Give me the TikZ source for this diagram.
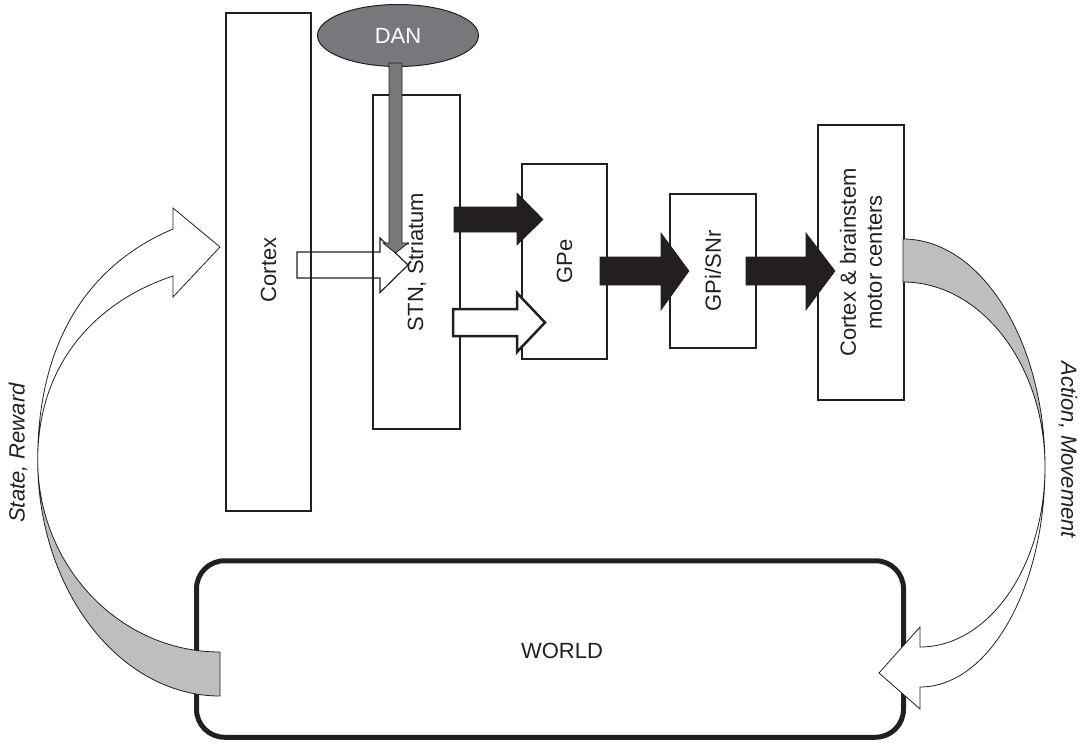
\documentclass[tikz,border=0pt]{standalone}
\usepackage{fontspec}
\setmainfont{Liberation Sans}
\usetikzlibrary{shapes.geometric}
\definecolor{ink}{HTML}{231F20}
\definecolor{dangray}{HTML}{77787B}
\definecolor{band}{HTML}{BCBEC0}
\begin{document}
\begin{tikzpicture}[x=1pt,y=-1pt,
  box/.style={draw=ink,line width=1.2pt,inner sep=0pt},
  lbl/.style={font=\fontsize{22}{26}\selectfont,text=ink,inner sep=0pt,align=center},
  blk/.style={fill=ink,draw=ink,line width=0.6pt},
  hollow/.style={draw=ink,line width=1.2pt},
  hollowthick/.style={draw=ink,fill=white,line width=2.5pt},
  ribbon/.style={draw=ink,line width=0.8pt}]
\useasboundingbox (0,0) rectangle (1080,744);

% boxes
\node[box,minimum width=85pt,minimum height=498pt] (cortex) at (268.5,262) {};
\node[box,minimum width=87pt,minimum height=334pt] (stn) at (416.5,262) {};
\node[box,minimum width=85pt,minimum height=195pt] (gpe) at (564.5,261.5) {};
\node[box,minimum width=86pt,minimum height=154pt] (gpi) at (713,271) {};
\node[box,minimum width=86pt,minimum height=275pt] (motor) at (861,262.5) {};
\node[draw=ink,line width=5pt,rounded corners=28pt,minimum width=707pt,minimum height=176.5pt,inner sep=0pt] (world) at (550,649) {};
\node[ellipse,draw=ink,fill=dangray,line width=1pt,minimum width=161pt,minimum height=62pt,inner sep=0pt] (dan) at (398,35.5) {};

% Cortex -> STN hollow arrow (unfilled)
\draw[hollow] (297,252) -- (380,252) -- (380,238) -- (408,265) -- (380,292.5) -- (380,278) -- (297,278) -- cycle;

% DAN -> STN gray arrow
\draw[fill=dangray,draw=ink,line width=0.8pt] (389,63) -- (389,243) -- (383,243) -- (395.5,253) -- (408,243) -- (402,243) -- (402,63) -- cycle;

% STN -> GPe black
\draw[blk] (454,207) -- (517,207) -- (517,193) -- (543,219.5) -- (517,245) -- (517,232) -- (454,232) -- cycle;
% STN -> GPe hollow
\draw[hollowthick] (453,309) -- (517,309) -- (517,293) -- (545,322.5) -- (517,352) -- (517,336) -- (453,336) -- cycle;
% GPe -> GPi
\draw[blk] (600,257) -- (661,257) -- (661,233) -- (689,271) -- (661,310) -- (661,285) -- (600,285) -- cycle;
% GPi -> motor
\draw[blk] (746,257) -- (806,257) -- (806,233) -- (835,271) -- (806,310) -- (806,285) -- (746,285) -- cycle;

% right curved arrow (action)
\coordinate (xr) at (1045,467);
\draw[ribbon,fill=band] (903,239) .. controls (981,239) and (1045,341) .. (xr)
  .. controls (1045,365) and (981,282) .. (903,282) -- cycle;
\draw[ribbon,fill=white] (xr) .. controls (1045,588) and (989,687) .. (920,687)
  -- (920,709) -- (879,673) -- (920,627) -- (920,647)
  .. controls (989,647) and (1045,566) .. (xr);

% left curved arrow (state)
\coordinate (xl) at (37.7,460);
\draw[ribbon,fill=band] (220,652) -- (220,696) .. controls (119.5,696) and (37.7,590) .. (xl)
  .. controls (37.7,566) and (119.5,652) .. (220,652) -- cycle;
\draw[ribbon,fill=white] (xl) .. controls (37.7,340) and (90,264) .. (173,229)
  -- (173,208) -- (220,247) -- (173,297) -- (173,276)
  .. controls (100,300) and (37.7,360) .. (xl);

% texts
\node[lbl,rotate=90] (tcortex) at (268.5,270) {Cortex};
\node[lbl,rotate=90] (tstn) at (stn) {STN, Striatum};
\node[lbl,rotate=90] (tgpe) at (gpe) {GPe};
\node[lbl,rotate=90] (tgpi) at (gpi) {GPi/SNr};
\node[lbl,rotate=90] (tmotor) at (motor) {Cortex \& brainstem\\motor centers};
\node[lbl] (tworld) at (562,651) {WORLD};
\node[lbl,text=white] (tdan) at (dan) {DAN};
\node[lbl,rotate=90,font=\fontsize{22}{26}\selectfont\itshape] (tstate) at (18,453) {State, Reward};
\node[lbl,rotate=-90,font=\fontsize{22}{26}\selectfont\itshape] (taction) at (1068,450) {Action, Movement};
\end{tikzpicture}
\end{document}
